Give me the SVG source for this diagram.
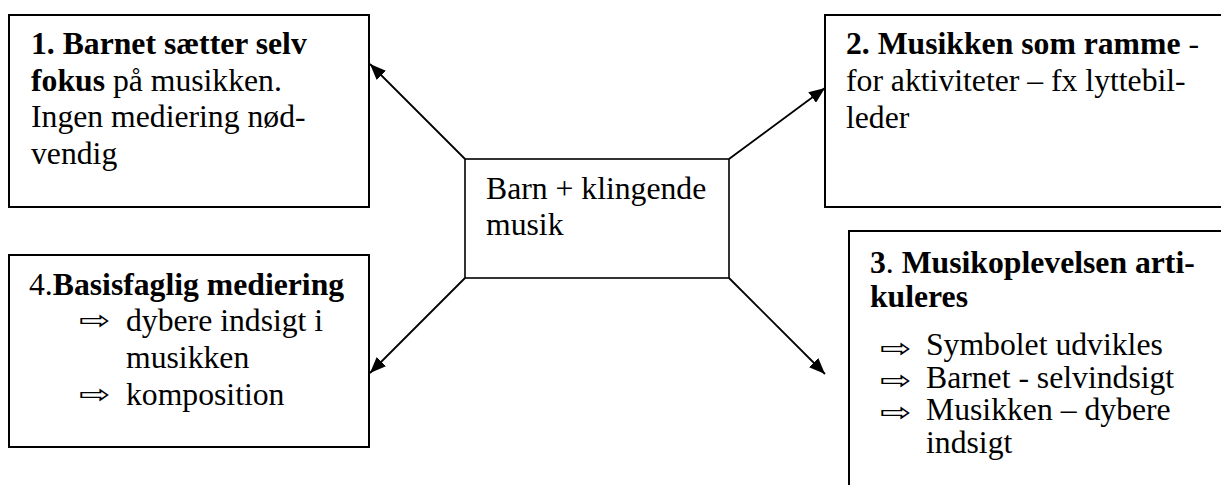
<svg xmlns="http://www.w3.org/2000/svg" width="1221" height="485" viewBox="0 0 1221 485">
<style>
text { font-family: "Liberation Serif", "Times New Roman", serif; font-size: 31.7px; fill: #000; }
.b { font-weight: bold; }
.bul { font-family: "DejaVu Sans", sans-serif; font-size: 26px; }
.box { fill: #fff; stroke: #000; stroke-width: 2; }
.cbox { fill: #fff; stroke: #000; stroke-width: 1.6; }
.conn { stroke: #000; stroke-width: 1.8; fill: none; marker-end: url(#ah); }
</style>
<defs>
<marker id="ah" viewBox="0 0 16 13" refX="16" refY="6.5" markerWidth="16" markerHeight="13" markerUnits="userSpaceOnUse" orient="auto">
<path d="M0,0 L16,6.5 L0,13 z" fill="#000"/>
</marker>
</defs>
<rect width="1221" height="485" fill="#fff"/>
<g id="connectors">
<line class="conn" x1="465" y1="159" x2="370" y2="64"/>
<line class="conn" x1="729" y1="159" x2="825" y2="88"/>
<line class="conn" x1="465" y1="278" x2="370" y2="373"/>
<line class="conn" x1="729" y1="278" x2="825" y2="374"/>
</g>
<g id="center">
<rect class="cbox" x="465" y="159" width="264" height="119"/>
<text x="486" y="199">Barn + klingende</text>
<text x="486" y="235">musik</text>
</g>
<g id="node1">
<rect class="box" x="9" y="15" width="360" height="192"/>
<text x="31" y="54" class="b">1. Barnet sætter selv</text>
<text x="31" y="91"><tspan class="b">fokus</tspan> på musikken.</text>
<text x="31" y="127">Ingen mediering nød-</text>
<text x="31" y="164">vendig</text>
</g>
<g id="node2">
<rect class="box" x="825" y="15" width="420" height="192"/>
<text x="846" y="54"><tspan class="b">2. Musikken som ramme</tspan> -</text>
<text x="846" y="91">for aktiviteter – fx lyttebil-</text>
<text x="846" y="128">leder</text>
</g>
<g id="node4">
<rect class="box" x="9" y="255" width="360" height="192"/>
<text x="29" y="295">4.<tspan class="b">Basisfaglig mediering</tspan></text>
<text class="bul" transform="translate(79,329) scale(1.45,1)">⇨</text>
<text x="126" y="331">dybere indsigt i</text>
<text x="126" y="368">musikken</text>
<text class="bul" transform="translate(79,403) scale(1.45,1)">⇨</text>
<text x="126" y="405">komposition</text>
</g>
<g id="node3">
<rect class="box" x="849" y="231" width="420" height="300"/>
<text x="870" y="273"><tspan class="b">3</tspan>. <tspan class="b">Musikoplevelsen arti-</tspan></text>
<text x="870" y="307" class="b">kuleres</text>
<text class="bul" transform="translate(880,357) scale(1.45,1)">⇨</text>
<text x="926" y="355">Symbolet udvikles</text>
<text class="bul" transform="translate(880,389) scale(1.45,1)">⇨</text>
<text x="926" y="388">Barnet - selvindsigt</text>
<text class="bul" transform="translate(880,421) scale(1.45,1)">⇨</text>
<text x="926" y="420">Musikken – dybere</text>
<text x="926" y="453">indsigt</text>
</g>
</svg>
